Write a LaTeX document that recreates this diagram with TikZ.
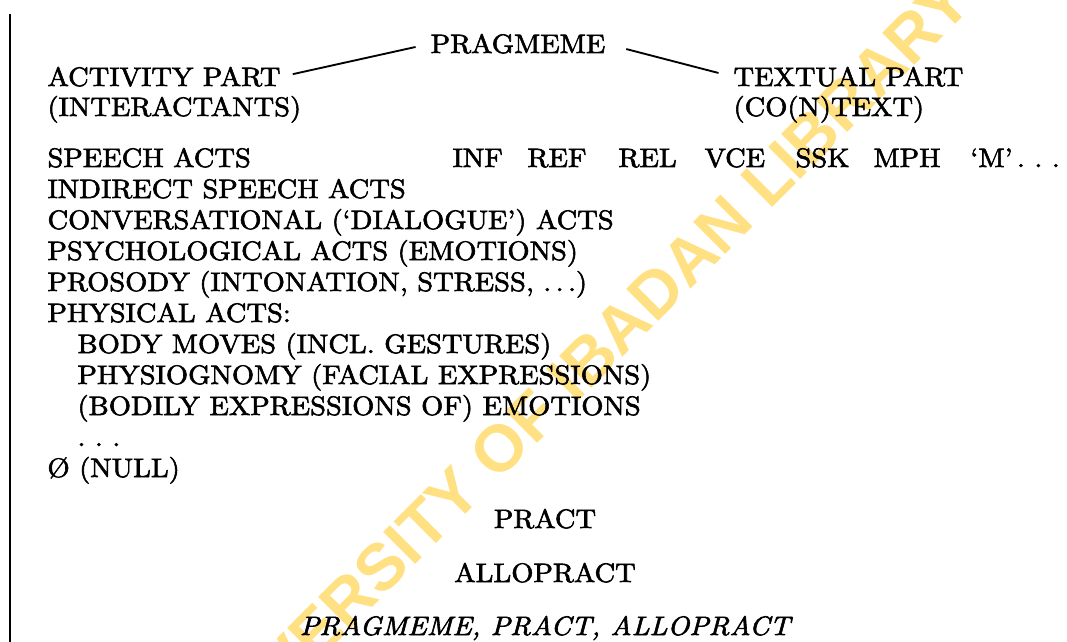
\documentclass[tikz,border=0pt]{standalone}
\usepackage{fontspec}
\setmainfont{lmroman10-regular.otf}[
    ItalicFont=lmroman10-italic.otf,
    FakeBold=2.2,
    FakeStretch=1.07
]
\newfontfamily\markfont{Liberation Sans}
\usepackage{xcolor}
\usepackage{tikz}
\usetikzlibrary{positioning}

\definecolor{wmyellow}{RGB}{255,224,130}

\begin{document}
\begin{tikzpicture}[
    x=0.375pt, y=-0.375pt,
    font=\normalsize,
    word/.style={
        inner sep=0pt,
        anchor=base west
    },
    cword/.style={
        inner sep=0pt,
        anchor=base
    },
    link/.style={line width=0.7pt},
    wmark/.style={
        inner sep=0pt,
        text=wmyellow,
        font=\markfont\bfseries\fontsize{24.7}{30}\selectfont
    }
]
\useasboundingbox (0,0) rectangle (1067,642);
\clip (0,0) rectangle (1067,642);

% library stamp across the page
\node[wmark, rotate=45, anchor=base west] (stamp) at (205,775)
    {UNIVERSITY OF IBADAN LIBRARY};

% margin rule
\coordinate (ruletop) at (10,14);
\coordinate (rulebot) at (10,642);
\draw[line width=0.8pt] (ruletop) -- (rulebot);

% top of the tree
\node[cword] (prag) at (518,53) {PRAGMEME};
\node[word] (act) at (47,86) {ACTIVITY PART};
\node[word] (inter) at (47,116) {(INTERACTANTS)};
\node[word] (txt) at (733,86) {TEXTUAL PART};
\node[word] (cotxt) at (733,116) {(CO(N)TEXT)};

\draw[link, shorten <=4.5pt, shorten >=5.6pt] (act.east) -- (prag.west);
\draw[link, shorten <=7.9pt, shorten >=5.6pt] (prag.east) -- (txt.west);

% activity side
\node[word] (sa) at (47,167) {SPEECH ACTS};
\node[word] (isa) at (47,198) {INDIRECT SPEECH ACTS};
\node[word] (conv) at (47,229) {CONVERSATIONAL (`DIALOGUE') ACTS};
\node[word] (psy) at (47,260) {PSYCHOLOGICAL ACTS (EMOTIONS)};
\node[word] (pros) at (47,291) {PROSODY (INTONATION, STRESS, .\,.\,.)};
\node[word] (phys) at (47,322) {PHYSICAL ACTS:};
\node[word] (body) at (77,353) {BODY MOVES (INCL. GESTURES)};
\node[word] (face) at (77,384) {PHYSIOGNOMY (FACIAL EXPRESSIONS)};
\node[word] (emo) at (77,415) {(BODILY EXPRESSIONS OF) EMOTIONS};
\node[word] (more) at (77,446) {.\ .\ .};
\node[word] (null) at (47,477) {\O{} (NULL)};

% textual side
\node[word] (inf) at (452,167) {INF};
\node[word] (ref) at (527,167) {REF};
\node[word] (rel) at (618,167) {REL};
\node[word] (vce) at (704,167) {VCE};
\node[word] (ssk) at (795,167) {SSK};
\node[word] (mph) at (873,167) {MPH};
\node[word] (m) at (970,167) {`M'\,.\ .\ .};

% lower levels
\node[cword] (pract) at (545,528) {PRACT};
\node[cword] (allo) at (545,582) {ALLOPRACT};
\node[cword, font=\itshape] (title) at (545,635) {PRAGMEME, PRACT, ALLOPRACT};

\end{tikzpicture}
\end{document}
